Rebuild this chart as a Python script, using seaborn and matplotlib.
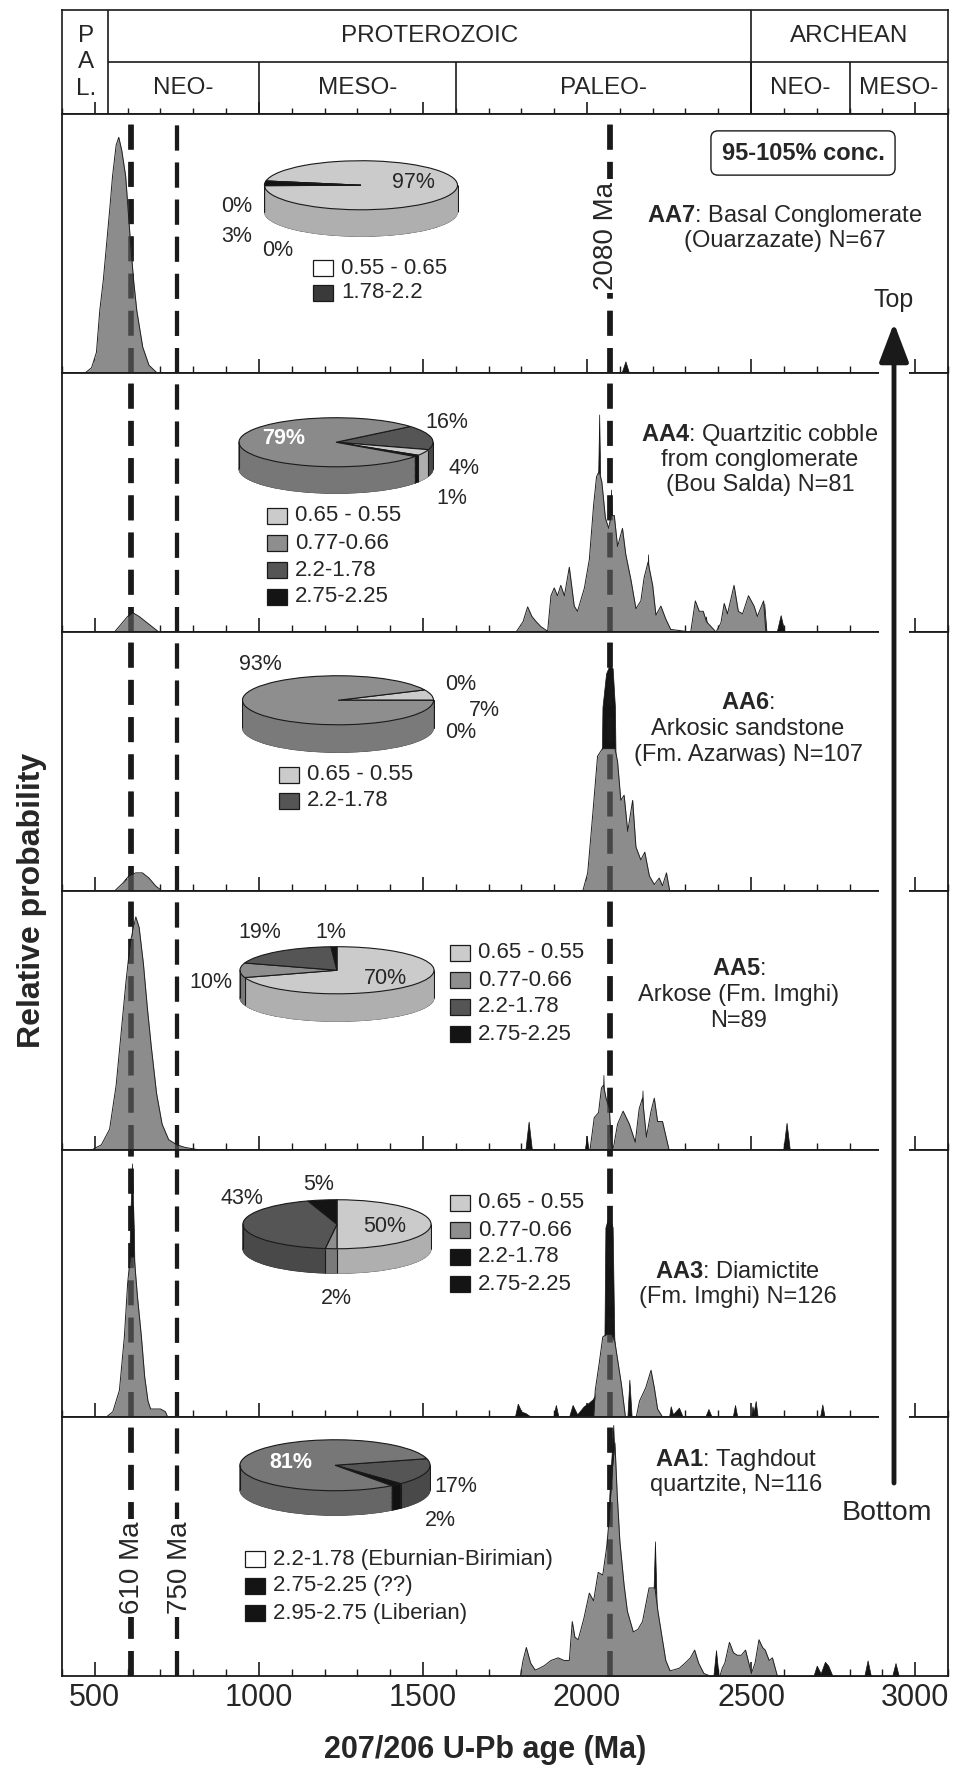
import numpy as np
import pandas as pd
import matplotlib
matplotlib.use("Agg")
import matplotlib.pyplot as plt
import seaborn as sns
from matplotlib.patches import Rectangle, Ellipse, FancyArrowPatch
from matplotlib.ticker import MultipleLocator

# ---------------- data ----------------
# relative probability curves (age Ma, height as fraction of panel)
aa7_age = [470, 490, 505, 515, 526, 536, 546, 554, 565, 573, 582, 594, 602, 609, 618, 628, 646, 665, 690]
aa7_gray = [0, 0.02, 0.08, 0.24, 0.36, 0.5, 0.64, 0.76, 0.88, 0.91, 0.86, 0.76, 0.62, 0.5, 0.36, 0.24, 0.1, 0.03, 0]
aa7_blk_age = [2105, 2117, 2128]
aa7_blk = [0, 0.045, 0]

aa4_age = [560, 580, 600, 615, 635, 655, 675, 695,
           1784, 1805, 1819, 1832, 1845, 1860, 1880, 1890, 1900, 1910, 1920, 1931, 1946, 1961, 1971,
           1992, 2007, 2020, 2029, 2037, 2045, 2056, 2066, 2073, 2083, 2093, 2108, 2118, 2134, 2149,
           2164, 2174, 2186, 2200, 2210, 2225, 2240, 2255, 2316, 2330, 2342, 2354, 2364, 2393, 2408,
           2418, 2428, 2448, 2461, 2474, 2492, 2509, 2519, 2538, 2545]
aa4_gray = [0, 0.03, 0.06, 0.075, 0.06, 0.04, 0.02, 0,
            0, 0.04, 0.097, 0.06, 0.04, 0.02, 0.003, 0.14, 0.17, 0.14, 0.18, 0.14, 0.25, 0.10, 0.08,
            0.17, 0.28, 0.49, 0.6, 0.62, 0.58, 0.44, 0.40, 0.45, 0.45, 0.33, 0.40, 0.30, 0.20, 0.09,
            0.12, 0.21, 0.27, 0.18, 0.065, 0.10, 0.05, 0.01, 0, 0.12, 0.08, 0.08, 0.04, 0, 0.035,
            0.11, 0.07, 0.18, 0.08, 0.07, 0.14, 0.10, 0.06, 0.12, 0]
aa4_blk_age = [585, 600, 612, 1800, 1830, 1850, 2026, 2037, 2048, 2064, 2073, 2085, 2180, 2186, 2193,
               2356, 2362, 2370, 2533, 2540, 2547, 2578, 2590, 2602]
aa4_blk = [0, 0.05, 0, 0, 0.03, 0, 0, 0.84, 0, 0, 0.55, 0, 0, 0.30, 0,
           0, 0.06, 0, 0, 0.11, 0, 0, 0.065, 0]

aa6_age = [560, 585, 605, 625, 645, 665, 685, 705,
           1987, 2002, 2017, 2032, 2047, 2058, 2068, 2078, 2085, 2093, 2103, 2113, 2124, 2139, 2149,
           2164, 2176, 2190, 2205, 2220, 2230, 2242, 2252]
aa6_gray = [0, 0.03, 0.06, 0.07, 0.07, 0.05, 0.02, 0,
            0, 0.07, 0.29, 0.52, 0.55, 0.55, 0.55, 0.55, 0.55, 0.5, 0.35, 0.37, 0.23, 0.35, 0.17,
            0.12, 0.15, 0.058, 0.025, 0.05, 0.02, 0.07, 0]
aa6_blk_age = [575, 595, 608, 2040, 2047, 2058, 2068, 2078, 2085, 2092, 2235, 2242, 2250]
aa6_blk = [0, 0.05, 0, 0, 0.71, 0.84, 0.87, 0.86, 0.71, 0, 0, 0.03, 0]

aa5_age = [490, 520, 545, 565, 580, 595, 608, 618, 625, 635, 648, 660, 672, 688, 705, 725, 750, 775, 820,
           2009, 2022, 2035, 2044, 2050, 2058, 2068, 2074, 2078, 2082, 2093, 2110, 2129, 2147, 2159,
           2169, 2181, 2195, 2205, 2215, 2230, 2250]
aa5_gray = [0, 0.02, 0.08, 0.25, 0.45, 0.65, 0.8, 0.86, 0.9, 0.86, 0.72, 0.55, 0.4, 0.22, 0.1, 0.04, 0.02, 0.01, 0,
            0, 0.125, 0.144, 0.24, 0.25, 0.2, 0.16, 0.02, 0, 0.02, 0.1, 0.15, 0.1, 0.03, 0.16,
            0.2, 0.05, 0.15, 0.2, 0.11, 0.11, 0]
aa5_blk_age = [600, 614, 622, 1812, 1822, 1832, 1993, 1999, 2005, 2045, 2050, 2055, 2164, 2169, 2174,
               2598, 2608, 2618]
aa5_blk = [0, 0.88, 0, 0, 0.11, 0, 0, 0.05, 0, 0, 0.29, 0, 0, 0.23, 0, 0, 0.105, 0]

aa3_age = [535, 555, 575, 590, 600, 608, 620, 630, 642, 652, 662, 670, 700, 715, 722,
           2020, 2025, 2037, 2048, 2060, 2075, 2085, 2095, 2105, 2117, 2150, 2160, 2179, 2195, 2205,
           2215, 2230]
aa3_gray = [0, 0.02, 0.1, 0.3, 0.5, 0.6, 0.6, 0.45, 0.3, 0.15, 0.06, 0.03, 0.03, 0.02, 0,
            0, 0.1, 0.2, 0.3, 0.31, 0.31, 0.28, 0.2, 0.12, 0, 0, 0.06, 0.11, 0.175, 0.11,
            0.03, 0]
aa3_blk_age = [598, 607, 613, 619, 628,
               1780, 1789, 1800, 1812, 1830, 1897, 1905, 1913, 1945, 1956, 1970, 1990, 2002, 2017,
               2024, 2045, 2053, 2056, 2063, 2071, 2078, 2083, 2088, 2100, 2123, 2129, 2136, 2250,
               2255, 2262, 2280, 2292, 2360, 2370, 2380, 2444, 2451, 2458, 2500, 2504, 2508, 2514,
               2520, 2710, 2717, 2724]
aa3_blk = [0, 0.7, 0.95, 0.7, 0,
           0, 0.05, 0.02, 0.015, 0, 0, 0.045, 0, 0, 0.045, 0.01, 0.04, 0.05, 0.066,
           0.08, 0.2, 0.3, 0.71, 0.74, 0.74, 0.71, 0.3, 0.2, 0, 0, 0.14, 0, 0,
           0.04, 0.01, 0.035, 0, 0, 0.03, 0, 0, 0.045, 0, 0, 0.04, 0.02, 0.06,
           0, 0, 0.047, 0]

aa1_age = [1797, 1805, 1815, 1828, 1842, 1855, 1870, 1890, 1912, 1930, 1946, 1955, 1963, 1973, 1990,
           2007, 2020, 2034, 2048, 2060, 2067, 2077, 2085, 2092, 2100, 2113, 2123, 2141, 2155, 2169,
           2189, 2200, 2207, 2216, 2226, 2240, 2253, 2268, 2281, 2299, 2315, 2328, 2340, 2356, 2375,
           2405, 2412, 2420, 2434, 2446, 2458, 2470, 2483, 2501, 2512, 2524, 2535, 2543, 2555, 2565,
           2580]
aa1_gray = [0, 0.06, 0.11, 0.05, 0.023, 0.03, 0.04, 0.06, 0.07, 0.06, 0.06, 0.21, 0.15, 0.14, 0.22,
            0.32, 0.29, 0.40, 0.39, 0.5, 0.6, 0.8, 0.9, 0.7, 0.52, 0.35, 0.25, 0.17, 0.18, 0.21,
            0.34, 0.34, 0.34, 0.25, 0.17, 0.06, 0.02, 0.025, 0.03, 0.05, 0.07, 0.10, 0.05, 0.01, 0,
            0, 0.03, 0.05, 0.13, 0.09, 0.08, 0.08, 0.10, 0.01, 0.05, 0.14, 0.11, 0.10, 0.06, 0.07,
            0]
aa1_blk_age = [2055, 2068, 2080, 2090, 2100, 2195, 2207, 2218, 2385, 2393, 2401,
               2690, 2700, 2712, 2725, 2735, 2748, 2845, 2855, 2865, 2930, 2940, 2950]
aa1_blk = [0, 0.7, 0.97, 0.6, 0, 0, 0.52, 0, 0, 0.1, 0,
           0, 0.04, 0.01, 0.055, 0.04, 0, 0, 0.06, 0, 0, 0.05, 0]

# pie charts (slice values in %)
aa7_pie = [97, 0, 3, 0]
aa4_pie = [16, 4, 1, 79]
aa6_pie = [0, 7, 0, 93]
aa5_pie = [70, 10, 19, 1]
aa3_pie = [50, 2, 43, 5]
aa1_pie = [17, 2, 81]

aa7_leg = ["0.55 - 0.65", "1.78-2.2"]
aa4_leg = ["0.65 - 0.55", "0.77-0.66", "2.2-1.78", "2.75-2.25"]
aa6_leg = ["0.65 - 0.55", "2.2-1.78"]
aa5_leg = ["0.65 - 0.55", "0.77-0.66", "2.2-1.78", "2.75-2.25"]
aa3_leg = ["0.65 - 0.55", "0.77-0.66", "2.2-1.78", "2.75-2.25"]
aa1_leg = ["2.2-1.78 (Eburnian-Birimian)", "2.75-2.25 (??)", "2.95-2.75 (Liberian)"]

# time scale
era_edges = [541, 2500, 3100]
era_names = ["PROTEROZOIC", "ARCHEAN"]
sub_edges = [541, 1000, 1600, 2500, 2800, 3100]
sub_names = ["NEO-", "MESO-", "PALEO-", "NEO-", "MESO-"]
ref_ages = [610, 750, 2070]

# ---------------- style ----------------
sns.set_theme(style="white")
plt.rcParams["font.family"] = ["Liberation Sans", "DejaVu Sans"]
plt.rcParams["mathtext.fontset"] = "custom"
plt.rcParams["mathtext.rm"] = "Liberation Sans"
plt.rcParams["mathtext.bf"] = "Liberation Sans:bold"

LIGHT, MED, DARK, BLACK = "#cbcbcb", "#8e8e8e", "#555555", "#141414"
FILL = "#8c8c8c"
W, H = 956, 1775
L, R = 62, 948
XLIM = (400, 3100)

fig = plt.figure(figsize=(W / 100, H / 100), dpi=100)


def fx(x):
    return x / W


def fy(y):
    return 1 - y / H


def rect(l, t, r, b):
    return [l / W, 1 - b / H, (r - l) / W, (b - t) / H]


def ftext(x, y, s, **kw):
    kw.setdefault("ha", "center")
    kw.setdefault("va", "center")
    return fig.text(fx(x), fy(y), s, **kw)


# ---------------- header (time scale) ----------------
hd = fig.add_axes(rect(L, 10, R, 114))
hd.set_xlim(XLIM)
hd.set_ylim(0, 2)
hd.set_yticks([])
hd.hlines(1, era_edges[0], era_edges[-1], color="k", lw=1.2)
hd.vlines(era_edges[:-1], 0, 2, color="k", lw=1.2)
hd.vlines(sub_edges[1:-1], 0, 1, color="k", lw=1.2)
for i, nm in enumerate(era_names):
    hd.text((era_edges[i] + era_edges[i + 1]) / 2, 1.5, nm, ha="center", va="center", fontsize=17.5)
for i, nm in enumerate(sub_names):
    hd.text((sub_edges[i] + sub_edges[i + 1]) / 2, 0.5, nm, ha="center", va="center", fontsize=17.5)
for yy, ch in zip([1.5, 1.0, 0.48], ["P", "A", "L."]):
    hd.text(473, yy, ch, ha="center", va="center", fontsize=17.5)
hd.xaxis.set_major_locator(MultipleLocator(500))
hd.xaxis.set_minor_locator(MultipleLocator(100))
hd.tick_params(axis="x", which="both", direction="in", bottom=True, top=False, labelbottom=False, color="k")
hd.tick_params(axis="x", which="major", length=9, width=1.2)
hd.tick_params(axis="x", which="minor", length=4, width=1)
for s in hd.spines.values():
    s.set_color("k")
    s.set_linewidth(1.2)

# ---------------- panels ----------------
panel_edges = [114, 373, 632, 891, 1150, 1417, 1676]
panels = [
    (aa7_age, aa7_gray, aa7_blk_age, aa7_blk),
    (aa4_age, aa4_gray, aa4_blk_age, aa4_blk),
    (aa6_age, aa6_gray, aa6_blk_age, aa6_blk),
    (aa5_age, aa5_gray, aa5_blk_age, aa5_blk),
    (aa3_age, aa3_gray, aa3_blk_age, aa3_blk),
    (aa1_age, aa1_gray, aa1_blk_age, aa1_blk),
]
ref_lw = [4, 3, 4]
ref_ls = [(0, (4.5, 2.2)), (0, (6, 2.9)), (0, (4.5, 2.2))]

axes = []
for i, (age, gray, bage, blk) in enumerate(panels):
    ax = fig.add_axes(rect(L, panel_edges[i], R, panel_edges[i + 1]))
    ax.set_xlim(XLIM)
    ax.set_ylim(0, 1)
    ax.set_yticks([])
    for a, lw, ls in zip(ref_ages, ref_lw, ref_ls):
        ax.axvline(a, color="k", lw=lw, ls=ls, zorder=1)
        ax.axvline(a, color="k", lw=lw, ls=ls, alpha=0.6, zorder=4)
    ax.fill_between(bage, 0, blk, color=BLACK, lw=0.5, edgecolor=BLACK, zorder=1.5)
    ax.fill_between(age, 0, gray, color=FILL, lw=0, zorder=2)
    df = pd.DataFrame({"age": age, "p": gray})
    sns.lineplot(data=df, x="age", y="p", ax=ax, color="#202020", lw=0.7,
                 estimator=None, sort=False, zorder=3)
    ax.set_xlabel("")
    ax.set_ylabel("")
    ax.xaxis.set_major_locator(MultipleLocator(500))
    ax.xaxis.set_minor_locator(MultipleLocator(100))
    ax.tick_params(axis="x", which="both", direction="in", bottom=True, top=False,
                   labelbottom=(i == len(panels) - 1), color="k")
    ax.tick_params(axis="x", which="major", length=10, width=1.2, labelsize=22, pad=5)
    ax.tick_params(axis="x", which="minor", length=5, width=1)
    for s in ax.spines.values():
        s.set_color("k")
        s.set_linewidth(1.3)
    axes.append(ax)

# ---------------- 3-D looking pies ----------------
def shade(c, f=0.86):
    r, g, b = matplotlib.colors.to_rgb(c)
    return (r * f, g * f, b * f)


def pie3d(cx, cy, w, h, depth, vals, cols, start):
    d = 2.0 * depth / h
    pa = fig.add_axes(rect(cx - w / 2, cy - h / 2, cx + w / 2, cy + h / 2 + depth))
    pa.add_patch(Ellipse((0, -d), 2, 2, fill=False, ec="k", lw=0.8))
    for t in np.linspace(d, 0, 30, endpoint=False):
        wd, _ = pa.pie(vals, colors=[shade(c) for c in cols], startangle=start,
                       counterclock=False, center=(0, -t))
        for wg in wd:
            wg.set_edgecolor(wg.get_facecolor())
            wg.set_linewidth(0.6)
    wd, _ = pa.pie(vals, colors=cols, startangle=start, counterclock=False,
                   wedgeprops=dict(edgecolor="k", linewidth=0.8))
    pa.vlines([-1, 1], -d, 0, color="k", lw=0.8)
    th = np.radians(start - 360 * np.cumsum(vals) / np.sum(vals))
    front = th[np.sin(th) < 0]
    pa.vlines(np.cos(front), np.sin(front) - d, np.sin(front), color="k", lw=0.8)
    pa.set_aspect("auto")
    pa.set_xlim(-1.01, 1.01)
    pa.set_ylim(-1 - d - 0.03, 1.03)
    pa.axis("off")
    return pa


pie3d(361, 185, 195, 50, 27, aa7_pie, [LIGHT, "white", BLACK, DARK], 170)
pie3d(336, 442, 196, 50, 27, aa4_pie, [DARK, LIGHT, BLACK, "#8a8a8a"], 40)
pie3d(338, 700, 193, 50, 28, aa6_pie, [LIGHT, LIGHT, BLACK, MED], 25)
pie3d(337, 970, 196, 48, 28, aa5_pie, [LIGHT, MED, DARK, BLACK], 90)
pie3d(337, 1224, 190, 50, 25, aa3_pie, [LIGHT, MED, DARK, BLACK], 90)
pie3d(335, 1465, 192, 52, 25, aa1_pie, [DARK, BLACK, "#777777"], 15)

pie_labels = [
    ("97%", 413, 183), ("0%", 237, 207), ("3%", 237, 237), ("0%", 278, 250),
    ("16%", 447, 422), ("4%", 464, 469), ("1%", 452, 498),
    ("93%", 260, 665), ("0%", 461, 684), ("7%", 484, 710), ("0%", 461, 733),
    ("19%", 260, 933), ("1%", 331, 932), ("10%", 211, 982), ("70%", 385, 978),
    ("5%", 319, 1185), ("43%", 242, 1199), ("50%", 385, 1227), ("2%", 336, 1298),
    ("17%", 456, 1487), ("2%", 440, 1520),
]
for s, x, y in pie_labels:
    ftext(x, y, s, fontsize=15.5)
ftext(284, 438, "79%", fontsize=15.5, color="white", weight="bold")
ftext(291, 1463, "81%", fontsize=15.5, color="white", weight="bold")


# ---------------- legends of the pies ----------------
def legend_block(sx, y0, pitch, labels, colors):
    for k, (lab, c) in enumerate(zip(labels, colors)):
        y = y0 + k * pitch
        fig.add_artist(Rectangle((fx(sx), fy(y + 8)), 20 / W, 16 / H, transform=fig.transFigure,
                                 fc=c, ec="k", lw=0.9))
        ftext(sx + 28, y, lab, fontsize=16, ha="left")


legend_block(313, 268, 25, aa7_leg, ["white", "#3a3a3a"])
legend_block(267, 516, 27, aa4_leg, [LIGHT, MED, DARK, BLACK])
legend_block(279, 775, 26, aa6_leg, [LIGHT, DARK])
legend_block(450, 953, 27, aa5_leg, [LIGHT, MED, DARK, BLACK])
legend_block(450, 1203, 27, aa3_leg, [LIGHT, MED, BLACK, BLACK])
legend_block(245, 1559, 27, aa1_leg, ["white", BLACK, BLACK])

# ---------------- sample captions ----------------
captions = [
    (785, 216, 25, [r"$\mathbf{AA7}$: Basal Conglomerate", "(Ouarzazate) N=67"]),
    (760, 435, 25, [r"$\mathbf{AA4}$: Quartzitic cobble", "from conglomerate", "(Bou Salda) N=81"]),
    (748, 703, 26, [r"$\mathbf{AA6}$:", "Arkosic sandstone", "(Fm. Azarwas) N=107"]),
    (739, 969, 26, [r"$\mathbf{AA5}$:", "Arkose (Fm. Imghi)", "N=89"]),
    (738, 1272, 25, [r"$\mathbf{AA3}$: Diamictite", "(Fm. Imghi) N=126"]),
    (736, 1460, 25, [r"$\mathbf{AA1}$: Taghdout", "quartzite, N=116"]),
]
for x, y0, pitch, lines in captions:
    for k, s in enumerate(lines):
        ftext(x, y0 + k * pitch, s, fontsize=17)

ftext(803, 153, "95-105% conc.", fontsize=17, weight="bold",
      bbox=dict(boxstyle="round,pad=0.45,rounding_size=0.3", fc="white", ec="k", lw=1))

# reference age labels
ftext(606, 236, "2080 Ma", fontsize=20, rotation=90,
      bbox=dict(fc="white", ec="none", pad=2))
ftext(132, 1568, "610 Ma", fontsize=20, rotation=90, bbox=dict(fc="white", ec="none", pad=2))
ftext(180, 1568, "750 Ma", fontsize=20, rotation=90, bbox=dict(fc="white", ec="none", pad=2))

# stratigraphic arrow
fig.add_artist(Rectangle((fx(879), fy(1490)), 30 / W, (1490 - 330) / H, transform=fig.transFigure,
                         fc="white", ec="none", zorder=5))
fig.add_artist(FancyArrowPatch((fx(894), fy(1483)), (fx(894), fy(323)), transform=fig.transFigure,
                               arrowstyle="-|>,head_length=0.95,head_width=0.36", mutation_scale=25,
                               lw=3.5, color="k", shrinkA=0, shrinkB=0, zorder=6))
ftext(894, 300, "Top", fontsize=18)
ftext(887, 1513, "Bottom", fontsize=20.5)

# axis titles
ftext(485, 1750, "207/206 U-Pb age (Ma)", fontsize=22, weight="bold")
ftext(32, 900, "Relative probability", fontsize=23, weight="bold", rotation=90)

fig.savefig("out.png", dpi=100)
